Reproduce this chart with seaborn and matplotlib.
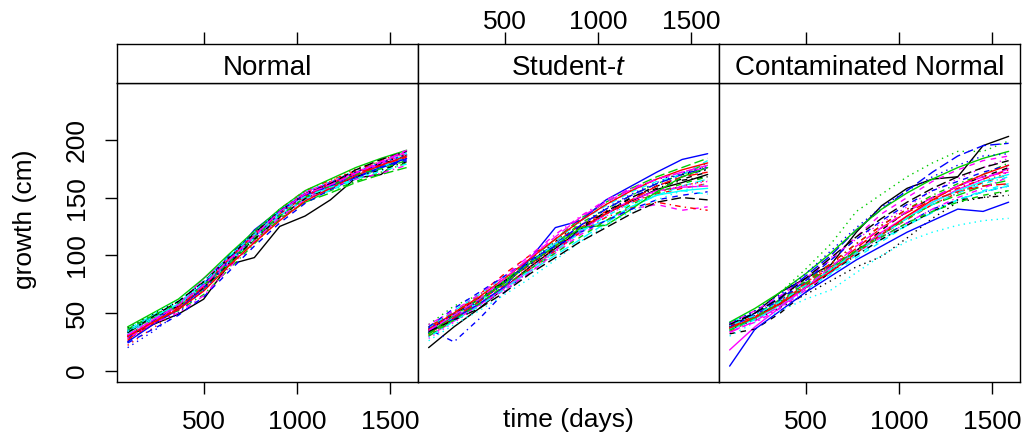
#%%
import pandas as pd
import matplotlib
matplotlib.use("Agg")
import matplotlib.pyplot as plt
import seaborn as sns

#%% Daten
time_days = [92, 228, 364, 500, 636, 772, 908, 1044, 1180, 1316, 1452, 1589]
panel_names = ["Normal", "Student-$t$", "Contaminated Normal"]
x_ticks = [500, 1000, 1500]
y_ticks = [0, 50, 100, 150, 200]

normal_curves = [
    [30, 40, 49, 62, 92, 98, 125, 134, 148, 167, 170, 187],
    [26, 40, 54, 72, 96, 118, 138, 154, 163, 172, 181, 188],
    [34, 46, 55, 70, 90, 112, 132, 150, 158, 168, 175, 183],
    [30, 44, 57, 75, 97, 117, 134, 149, 160, 171, 179, 185],
    [36, 48, 59, 76, 96, 118, 137, 152, 158, 169, 177, 184],
    [33, 46, 57, 80, 98, 118, 138, 155, 163, 172, 180, 190],
    [35, 47, 58, 74, 94, 114, 134, 150, 161, 170, 179, 186],
    [22, 37, 52, 70, 95, 117, 137, 152, 164, 175, 181, 187],
    [31, 44, 52, 66, 88, 110, 132, 146, 156, 164, 172, 180],
    [28, 43, 56, 75, 100, 120, 138, 152, 161, 170, 177, 183],
    [34, 47, 57, 73, 93, 116, 134, 149, 157, 168, 176, 186],
    [30, 43, 55, 70, 92, 113, 132, 150, 161, 171, 179, 188],
    [37, 49, 60, 77, 97, 117, 136, 153, 162, 172, 180, 187],
    [29, 42, 54, 72, 96, 119, 140, 156, 165, 173, 182, 191],
    [33, 46, 56, 71, 92, 113, 131, 146, 154, 163, 170, 176],
    [25, 40, 53, 72, 96, 122, 139, 152, 160, 168, 176, 184],
    [32, 45, 57, 74, 95, 115, 135, 148, 156, 166, 175, 189],
    [31, 44, 55, 72, 94, 116, 136, 152, 162, 172, 181, 189],
    [34, 46, 56, 72, 93, 114, 133, 149, 159, 168, 174, 181],
    [27, 41, 55, 73, 97, 118, 136, 151, 162, 171, 178, 185],
    [38, 50, 62, 80, 101, 121, 140, 156, 166, 176, 184, 191],
    [24, 36, 48, 64, 86, 108, 128, 145, 157, 167, 176, 182],
    [35, 49, 61, 78, 99, 120, 139, 155, 164, 173, 181, 188],
    [28, 41, 50, 65, 89, 112, 133, 148, 159, 166, 171, 178],
    [33, 47, 60, 77, 98, 119, 138, 153, 162, 174, 183, 190],
    [30, 42, 53, 69, 91, 111, 130, 147, 158, 169, 178, 186],
    [36, 48, 58, 74, 94, 116, 134, 150, 160, 170, 175, 182],
    [20, 34, 50, 70, 94, 116, 136, 153, 163, 172, 180, 187],
    [34, 46, 58, 76, 99, 118, 137, 151, 159, 166, 173, 179],
    [31, 44, 57, 74, 96, 117, 138, 153, 161, 171, 181, 191],
]

student_curves = [
    [20, 38, 54, 72, 90, 106, 122, 136, 147, 157, 163, 170],
    [34, 50, 66, 84, 100, 112, 126, 138, 146, 153, 158, 162],
    [40, 56, 66, 80, 95, 110, 126, 140, 152, 162, 170, 178],
    [36, 25, 45, 68, 88, 105, 122, 136, 150, 160, 168, 175],
    [36, 46, 58, 72, 86, 100, 114, 128, 142, 152, 160, 166],
    [30, 43, 57, 72, 88, 104, 121, 136, 148, 156, 159, 160],
    [37, 50, 63, 78, 93, 108, 125, 137, 150, 160, 166, 172],
    [31, 45, 58, 73, 90, 106, 122, 136, 146, 154, 160, 165],
    [38, 51, 64, 78, 94, 110, 128, 140, 152, 162, 170, 180],
    [34, 47, 61, 77, 94, 110, 126, 140, 152, 162, 170, 176],
    [33, 46, 60, 76, 93, 110, 122, 130, 142, 152, 156, 158],
    [35, 47, 57, 70, 85, 102, 118, 130, 140, 144, 139, 142],
    [36, 48, 62, 78, 94, 112, 130, 144, 156, 166, 170, 174],
    [38, 50, 62, 74, 88, 104, 120, 133, 141, 146, 142, 139],
    [30, 44, 60, 78, 96, 114, 132, 146, 158, 168, 176, 184],
    [33, 45, 58, 73, 97, 124, 130, 148, 160, 172, 183, 188],
    [37, 52, 66, 82, 97, 112, 130, 143, 155, 164, 170, 182],
    [28, 42, 56, 70, 86, 103, 120, 134, 146, 155, 160, 164],
    [35, 49, 62, 77, 92, 107, 123, 138, 150, 158, 165, 168],
    [32, 46, 60, 76, 92, 108, 124, 136, 148, 160, 168, 172],
    [32, 48, 62, 76, 93, 108, 124, 126, 140, 155, 168, 176],
    [38, 54, 68, 82, 96, 108, 120, 130, 140, 148, 152, 155],
    [26, 40, 52, 66, 80, 96, 112, 126, 138, 148, 156, 162],
    [40, 52, 66, 82, 100, 118, 134, 148, 158, 166, 172, 176],
    [34, 44, 54, 68, 84, 98, 112, 124, 136, 146, 150, 148],
    [36, 50, 64, 80, 97, 114, 130, 144, 156, 166, 174, 180],
    [32, 44, 58, 74, 88, 102, 116, 130, 144, 154, 162, 168],
    [37, 49, 60, 76, 92, 109, 126, 141, 153, 163, 171, 177],
    [29, 43, 56, 71, 87, 104, 120, 134, 145, 152, 156, 153],
    [35, 48, 62, 80, 98, 116, 133, 146, 157, 166, 172, 178],
]

contam_curves = [
    [38, 50, 68, 80, 92, 120, 143, 158, 166, 168, 195, 203],
    [34, 45, 58, 74, 88, 104, 118, 131, 144, 154, 163, 170],
    [40, 52, 68, 88, 110, 138, 153, 168, 180, 190, 190, 199],
    [39, 49, 61, 77, 91, 104, 116, 128, 140, 148, 155, 160],
    [42, 50, 60, 72, 85, 100, 114, 126, 137, 148, 155, 160],
    [18, 38, 55, 72, 88, 104, 120, 134, 146, 157, 166, 175],
    [32, 36, 50, 68, 86, 104, 122, 138, 150, 160, 168, 176],
    [37, 46, 60, 76, 92, 108, 120, 132, 144, 154, 164, 172],
    [38, 48, 62, 78, 93, 110, 126, 140, 152, 162, 170, 180],
    [40, 50, 64, 82, 100, 122, 140, 156, 172, 186, 195, 197],
    [35, 45, 57, 72, 88, 102, 118, 132, 146, 156, 164, 170],
    [41, 52, 65, 80, 96, 116, 136, 150, 164, 174, 182, 186],
    [36, 44, 55, 66, 78, 90, 99, 115, 132, 146, 150, 156],
    [38, 47, 60, 76, 93, 110, 126, 140, 150, 158, 166, 174],
    [36, 46, 58, 74, 88, 104, 118, 132, 144, 152, 160, 165],
    [4, 36, 52, 68, 82, 96, 108, 120, 130, 140, 138, 146],
    [36, 44, 56, 70, 84, 98, 112, 126, 138, 148, 156, 162],
    [41, 51, 62, 80, 98, 114, 128, 142, 156, 166, 176, 184],
    [40, 48, 58, 72, 86, 100, 114, 126, 138, 148, 150, 152],
    [39, 47, 59, 75, 90, 106, 124, 137, 148, 155, 160, 162],
    [42, 54, 68, 84, 102, 122, 140, 154, 166, 176, 184, 190],
    [38, 48, 62, 78, 96, 114, 130, 144, 156, 164, 172, 178],
    [30, 42, 52, 62, 70, 85, 100, 112, 120, 126, 130, 132],
    [34, 42, 54, 70, 86, 102, 116, 128, 140, 150, 158, 168],
    [40, 50, 63, 80, 98, 116, 132, 146, 158, 168, 176, 182],
    [37, 46, 58, 72, 86, 102, 118, 134, 148, 160, 170, 178],
    [35, 46, 60, 76, 90, 104, 116, 128, 138, 146, 152, 156],
    [41, 52, 66, 84, 104, 124, 142, 156, 168, 178, 186, 188],
    [39, 48, 60, 74, 88, 102, 118, 132, 144, 154, 162, 168],
    [33, 43, 56, 72, 90, 108, 124, 138, 150, 160, 168, 172],
]

#%% Stil (R-Standardpalette und Linientypen)
line_colors = ["#000000", "#FF0000", "#00CD00", "#0000FF", "#00FFFF", "#FF00FF"]
line_dashes = ["", (4, 4), (1, 3), (1, 3, 4, 3), (7, 3)]

W, H = 1028, 438


def box(left, top, right, bottom):
    # Pixelkoordinaten -> Figure-Koordinaten
    return [left / W, 1 - bottom / H, (right - left) / W, (bottom - top) / H]


def growth_plot():
    rows = []
    for panel, curves in zip(panel_names, [normal_curves, student_curves, contam_curves]):
        for i, vals in enumerate(curves):
            for t, g in zip(time_days, vals):
                rows.append({"panel": panel, "curve": f"c{i:02d}", "time": t, "growth": g})
    df = pd.DataFrame(rows)

    curve_ids = sorted(df["curve"].unique())
    palette = {c: line_colors[i % len(line_colors)] for i, c in enumerate(curve_ids)}
    dashes = {c: line_dashes[i % len(line_dashes)] for i, c in enumerate(curve_ids)}

    sns.set_theme(style="white")
    plt.rcParams["font.family"] = ["Liberation Sans", "DejaVu Sans"]
    plt.rcParams["mathtext.fontset"] = "custom"
    plt.rcParams["mathtext.rm"] = "Liberation Sans"
    plt.rcParams["mathtext.it"] = "Liberation Sans:italic"
    fs = 19

    fig = plt.figure(figsize=(W / 100, H / 100), dpi=100)
    lefts = [117, 418, 719]
    for k, panel in enumerate(panel_names):
        l = lefts[k]
        ax = fig.add_axes(box(l, 82.7, l + 301, 381.7))
        sub = df[df["panel"] == panel]
        sns.lineplot(data=sub, x="time", y="growth", hue="curve", style="curve",
                     hue_order=curve_ids, style_order=curve_ids, palette=palette,
                     dashes=dashes, estimator=None, sort=False, lw=1.0,
                     legend=False, ax=ax)
        ax.set_xlim(35, 1650)
        ax.set_ylim(-9.5, 249.5)
        ax.set_xlabel("")
        ax.set_ylabel("")
        for s in ax.spines.values():
            s.set_color("black")
            s.set_linewidth(1.0)
        ax.set_xticks(x_ticks)
        ax.set_yticks(y_ticks)
        ax.tick_params(axis="both", direction="out", length=8.4, width=1.0,
                       color="black", labelsize=fs, pad=12, labelcolor="black")
        if k == 1:
            ax.tick_params(axis="x", bottom=False, labelbottom=False)
        if k == 0:
            ax.tick_params(axis="y", left=True, labelleft=True, labelrotation=90)
            for lab in ax.get_yticklabels():
                lab.set_va("center")
        else:
            ax.tick_params(axis="y", left=False, labelleft=False)
        ax.tick_params(axis="x", bottom=(k != 1))

        # Streifen mit Titel
        sx = fig.add_axes(box(l, 44.5, l + 301, 82.7))
        sx.set_xlim(35, 1650)
        sx.set_ylim(0, 1)
        sx.set_yticks([])
        sx.set_xticks(x_ticks)
        sx.xaxis.tick_top()
        sx.tick_params(axis="x", direction="out", length=8.4, width=1.0, color="black",
                       labelsize=fs, pad=-1, labeltop=(k == 1), labelbottom=False,
                       bottom=False, labelcolor="black")
        for s in sx.spines.values():
            s.set_color("black")
            s.set_linewidth(1.0)
        sx.text(0.5, 0.2, panel, transform=sx.transAxes, ha="center", va="baseline",
                fontsize=20, color="black")

    fig.text(25 / W, 1 - 219 / H, "growth (cm)", rotation=90, ha="center", va="center",
             fontsize=fs, color="black")
    fig.text(568.5 / W, 1 - 420 / H, "time (days)", ha="center", va="center",
             fontsize=fs, color="black")

    fig.savefig("out.png", dpi=100)


if __name__ == "__main__":
    growth_plot()
